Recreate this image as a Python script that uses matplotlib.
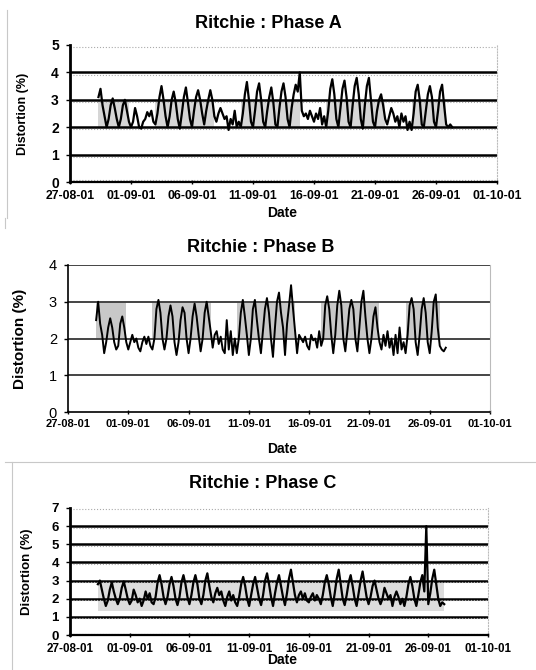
import matplotlib
matplotlib.use("Agg")
import matplotlib.pyplot as plt
import matplotlib.dates as mdates
from matplotlib.lines import Line2D
import numpy as np
import pandas as pd

plt.rcParams['font.family'] = ['Liberation Sans', 'DejaVu Sans']

# ---------------------------------------------------------------------------
# data: distortion (%), one value every 4 hours
# first day starts at 08:00 on 29-08-01, last day stops at 08:00 on 27-09-01
# ---------------------------------------------------------------------------
start = "2001-08-29 08:00"

phase_a = [
    [3.1, 3.4, 2.8, 2.4],                 # 29-08
    [2.0, 2.3, 2.8, 3.05, 2.7, 2.3],      # 30-08
    [2.0, 2.3, 2.8, 3.0, 2.6, 2.2],
    [2.0, 2.2, 2.7, 2.4, 2.0, 1.95],      # 01-09
    [2.2, 2.3, 2.55, 2.4, 2.6, 2.2],
    [2.1, 2.5, 3.1, 3.5, 3.0, 2.4],       # 03-09
    [2.0, 2.4, 3.0, 3.3, 2.9, 2.3],
    [1.95, 2.5, 3.1, 3.45, 2.9, 2.3],
    [2.0, 2.6, 3.1, 3.35, 3.0, 2.5],
    [2.1, 2.6, 3.0, 3.35, 3.0, 2.4],
    [2.2, 2.5, 2.7, 2.5, 2.3, 2.4],       # 08-09
    [1.9, 2.3, 2.1, 2.6, 2.0, 2.2],
    [2.0, 2.5, 3.2, 3.65, 3.0, 2.2],      # 10-09
    [2.0, 2.6, 3.3, 3.6, 3.0, 2.2],
    [2.0, 2.6, 3.1, 3.45, 2.9, 2.1],
    [2.0, 2.7, 3.3, 3.6, 3.1, 2.3],
    [2.0, 2.7, 3.2, 3.55, 3.3, 4.0],
    [2.6, 2.4, 2.5, 2.3, 2.6, 2.4],       # 15-09
    [2.2, 2.5, 2.3, 2.7, 2.1, 2.4],
    [2.0, 2.6, 3.4, 3.75, 3.2, 2.3],      # 17-09
    [2.0, 2.7, 3.4, 3.7, 3.1, 2.2],
    [2.0, 2.8, 3.5, 3.8, 3.2, 2.3],
    [1.95, 2.8, 3.5, 3.8, 3.0, 2.2],
    [2.0, 2.6, 3.0, 3.2, 2.8, 2.3],
    [2.1, 2.4, 2.7, 2.5, 2.2, 2.4],       # 22-09
    [2.0, 2.5, 2.2, 2.4, 1.9, 2.2],
    [1.9, 2.5, 3.3, 3.55, 3.0, 2.1],      # 24-09
    [2.0, 2.6, 3.2, 3.5, 3.1, 2.2],
    [2.0, 2.6, 3.3, 3.55, 2.8, 2.1],
    [2.0, 2.1, 2.0],                      # 27-09
]

phase_b = [
    [2.5, 3.0, 2.4, 2.1],
    [1.6, 1.9, 2.3, 2.55, 2.3, 1.9],
    [1.7, 1.8, 2.4, 2.6, 2.3, 1.9],
    [1.7, 1.9, 2.1, 1.9, 2.0, 1.75],
    [1.65, 1.9, 2.05, 1.85, 2.05, 1.8],
    [1.7, 2.0, 2.8, 3.05, 2.7, 2.0],
    [1.7, 2.0, 2.6, 2.9, 2.6, 1.9],
    [1.55, 1.9, 2.5, 2.85, 2.7, 2.0],
    [1.6, 2.0, 2.6, 2.95, 2.6, 2.1],
    [1.65, 2.0, 2.7, 3.0, 2.6, 2.2],
    [1.75, 2.1, 2.2, 1.85, 2.05, 1.7],
    [1.6, 2.5, 1.7, 2.2, 1.55, 2.0],
    [1.6, 2.0, 2.7, 3.05, 2.6, 2.1],
    [1.55, 2.0, 2.8, 3.05, 2.5, 2.0],
    [1.6, 2.2, 2.8, 3.1, 2.7, 2.0],
    [1.5, 2.3, 3.0, 3.25, 2.7, 2.3],
    [1.55, 2.4, 2.9, 3.45, 2.8, 2.2],
    [1.6, 2.1, 2.0, 1.9, 2.05, 1.8],
    [1.7, 2.1, 1.95, 2.0, 1.75, 2.2],
    [1.8, 2.0, 2.9, 3.15, 2.8, 2.1],
    [1.6, 2.1, 2.9, 3.3, 2.9, 2.0],
    [1.65, 2.2, 2.8, 3.05, 2.8, 2.0],
    [1.65, 2.3, 3.0, 3.3, 2.6, 2.0],
    [1.6, 2.0, 2.6, 2.85, 2.3, 1.9],
    [1.7, 2.1, 1.8, 2.2, 1.75, 2.0],
    [1.55, 2.1, 1.6, 2.3, 1.7, 1.9],
    [1.6, 2.1, 2.9, 3.1, 2.8, 1.9],
    [1.55, 2.1, 2.8, 3.1, 2.7, 1.9],
    [1.6, 2.2, 3.0, 3.2, 2.3, 1.8],
    [1.7, 1.65, 1.75],
]

phase_c = [
    [2.8, 3.0, 2.5, 2.0],
    [1.6, 1.9, 2.5, 2.9, 2.4, 2.0],
    [1.7, 2.0, 2.6, 2.95, 2.5, 2.0],
    [1.7, 1.9, 2.5, 2.2, 1.8, 2.0],
    [1.6, 1.9, 2.4, 2.0, 2.3, 1.8],
    [1.7, 2.1, 2.9, 3.3, 2.8, 2.1],
    [1.7, 2.1, 2.8, 3.2, 2.7, 2.0],
    [1.65, 2.1, 2.9, 3.3, 2.8, 2.1],
    [1.7, 2.2, 2.9, 3.3, 2.8, 2.0],
    [1.7, 2.2, 3.0, 3.4, 2.7, 2.1],
    [1.8, 2.3, 2.6, 2.2, 2.4, 1.9],
    [1.6, 2.1, 2.4, 1.9, 2.2, 1.8],
    [1.6, 2.1, 2.8, 3.2, 2.7, 2.0],
    [1.6, 2.2, 2.8, 3.2, 2.6, 2.0],
    [1.65, 2.2, 3.0, 3.4, 2.8, 2.1],
    [1.6, 2.3, 2.9, 3.3, 2.7, 2.1],
    [1.65, 2.3, 3.1, 3.6, 2.9, 2.2],
    [1.8, 2.2, 2.4, 2.0, 2.3, 1.9],
    [1.8, 2.1, 2.3, 1.9, 2.2, 2.0],
    [1.7, 2.2, 2.9, 3.3, 2.8, 2.1],
    [1.6, 2.3, 3.1, 3.6, 2.8, 2.0],
    [1.65, 2.2, 2.9, 3.3, 2.7, 2.0],
    [1.6, 2.3, 3.0, 3.5, 2.8, 2.1],
    [1.7, 2.1, 2.7, 3.0, 2.5, 2.0],
    [1.7, 2.0, 2.6, 2.3, 2.0, 2.2],
    [1.6, 2.1, 2.4, 2.1, 1.7, 2.0],
    [1.6, 2.1, 2.8, 3.2, 2.7, 2.0],
    [1.6, 2.2, 2.9, 3.3, 2.4, 6.0],
    [1.7, 2.3, 3.1, 3.6, 2.8, 2.0],
    [1.6, 1.8, 1.7],
]

# grey band behind the working-day cycles (start, end)
weekday_blocks = [("2001-08-29 08:00", "2001-08-31 20:00"),
                  ("2001-09-03", "2001-09-07 20:00"),
                  ("2001-09-10", "2001-09-14 20:00"),
                  ("2001-09-17", "2001-09-21 20:00"),
                  ("2001-09-24", "2001-09-26 20:00")]

titles = ["Ritchie : Phase A", "Ritchie : Phase B", "Ritchie : Phase C"]
ymax = [5, 4, 7]
tick_dates = pd.date_range("2001-08-27", "2001-10-01", freq="5D")

fig = plt.figure(figsize=(5.36, 6.7), dpi=100)

boxes = [(70, 497, 45, 182), (68, 490, 265, 412), (70, 488, 508, 635)]
title_x = [268, 261, 263]
title_off = [22, 18, 25]
date_off = [31, 37, 25]
ylab_x = [23, 20, 27]
ylab_fs = [9, 11, 9.5]
xtick_fs = [8.8, 8, 8.4]
xtick_pad = [4.5, 3.8, 4]
ytick_fs = [10, 10.5, 9.5]
W, H = 536., 670.


def flat(days):
    return np.array([v for d in days for v in d])


series = [flat(phase_a), flat(phase_b), flat(phase_c)]

for k, (vals, box) in enumerate(zip(series, boxes)):
    l, r, t, b = box
    ax = fig.add_axes([l / W, 1 - b / H, (r - l) / W, (b - t) / H])
    times = pd.date_range(start, periods=len(vals), freq="4h")

    # grey shading
    if k == 2:
        ax.fill_between([times[0], times[-1]], 1.3, 3.0, color="#dcdcdc", lw=0, zorder=1)
    else:
        shade = "#d6d6d6" if k == 0 else "#c8c8c8"
        for s, e in weekday_blocks:
            ax.fill_between([pd.Timestamp(s), pd.Timestamp(e)], 2.0, 3.0,
                            color=shade, lw=0, zorder=1)

    # gridlines
    if k == 1:
        for yv in range(1, ymax[k] + 1):
            ax.axhline(yv, color="#444444", lw=1.4, zorder=2)
    else:
        for yv in range(1, ymax[k]):
            ax.axhline(yv, color="black", lw=1.8, zorder=2)
            ax.axhline(yv - 0.08, color="#aaaaaa", lw=0.8, ls=":", zorder=2)
        ax.axhline(ymax[k] - 0.08, color="#aaaaaa", lw=0.8, ls=":", zorder=2)
        ax.axhline(0.08, color="#aaaaaa", lw=0.8, ls=":", zorder=2)

    ax.plot(times, vals, color="black", lw=1.4 if k == 1 else 1.6, zorder=3)

    ax.set_xlim(tick_dates[0], tick_dates[-1])
    ax.set_ylim(0, ymax[k])
    ax.set_yticks(range(0, ymax[k] + 1))
    ax.set_xticks(tick_dates)
    ax.xaxis.set_major_formatter(mdates.DateFormatter("%d-%m-%y"))
    ax.tick_params(axis="x", length=3, width=1, direction="inout", pad=xtick_pad[k])
    ax.tick_params(axis="y", length=3, width=1, direction="out", pad=5)
    for lab in ax.get_xticklabels():
        lab.set_fontsize(xtick_fs[k])
        lab.set_fontweight("bold")
    for lab in ax.get_yticklabels():
        lab.set_fontsize(ytick_fs[k])
        lab.set_fontweight("normal" if k == 1 else "bold")

    ax.spines["top"].set_visible(False)
    ax.spines["right"].set_color("#bbbbbb")
    ax.spines["right"].set_linestyle(":" if k != 1 else "-")
    ax.spines["left"].set_linewidth(1.2 if k == 1 else 2)
    ax.spines["bottom"].set_linewidth(1.2 if k == 1 else 1.6)
    ax.patch.set_alpha(0)

    # titles and axis labels
    fig.text(title_x[k] / W, 1 - (t - title_off[k]) / H, titles[k],
             ha="center", va="center", fontsize=13, fontweight="bold")
    fig.text(0.527, 1 - (b + date_off[k]) / H, "Date", ha="center", va="center",
             fontsize=10, fontweight="bold")
    fig.text(ylab_x[k] / W, 1 - (t + b) / 2 / H, "Distortion (%)", rotation=90,
             ha="center", va="center", fontsize=ylab_fs[k], fontweight="bold")

# faint frame lines of the pasted chart images
fig.add_artist(Line2D([7 / W, 7 / W], [1 - 10 / H, 1 - 218 / H], color="#c8c8c8", lw=0.8))
fig.add_artist(Line2D([5 / W, 5 / W], [1 - 218 / H, 1 - 228 / H], color="#c8c8c8", lw=0.8))
fig.add_artist(Line2D([5 / W, 1], [1 - 462 / H, 1 - 462 / H], color="#c8c8c8", lw=0.8))
fig.add_artist(Line2D([12 / W, 12 / W], [1 - 462 / H, 0], color="#c8c8c8", lw=0.8))

fig.savefig("out.png", dpi=100)
